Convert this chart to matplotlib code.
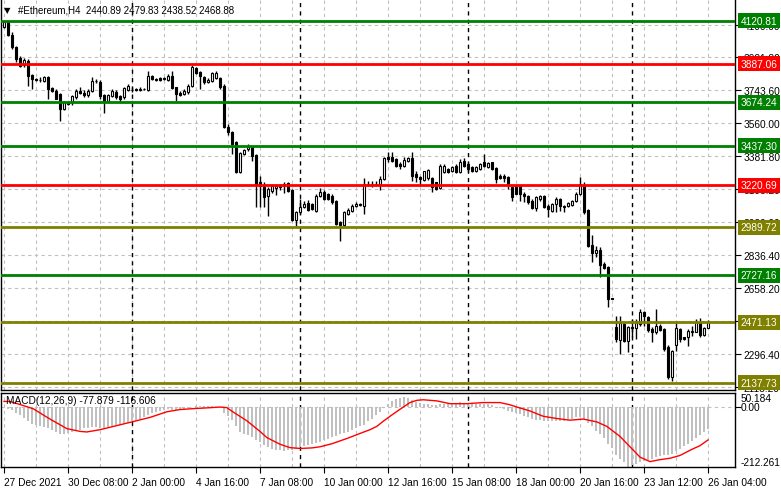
import matplotlib
matplotlib.use('Agg')
import matplotlib.pyplot as plt
from matplotlib.transforms import blended_transform_factory
import numpy as np

# ---------------- data ----------------
title_text = "#Ethereum,H4  2440.89 2479.83 2438.52 2468.88"

opens = [
    4085, 4116, 4045, 3976, 3915, 3880, 3903, 3822, 3802, 3795,
    3793, 3812, 3753, 3738, 3720, 3638, 3668, 3678, 3702, 3738,
    3726, 3715, 3738, 3790, 3784, 3714, 3684, 3711, 3733, 3711,
    3702, 3742, 3742, 3747, 3742, 3745, 3742, 3817, 3800, 3808,
    3800, 3795, 3817, 3757, 3726, 3720, 3729, 3766, 3861, 3839,
    3815, 3784, 3793, 3806, 3806, 3766, 3541, 3512, 3455, 3295,
    3392, 3420, 3428, 3386, 3240, 3218, 3163, 3191, 3204, 3210,
    3229, 3233, 3196, 3032, 3072, 3100, 3123, 3118, 3081, 3160,
    3185, 3173, 3163, 3136, 3017, 3005, 3063, 3081, 3109, 3118,
    3109, 3227, 3228, 3227, 3227, 3255, 3377, 3373, 3364, 3336,
    3327, 3355, 3368, 3282, 3264, 3251, 3258, 3258, 3236, 3205,
    3291, 3309, 3300, 3328, 3291, 3355, 3337, 3318, 3300, 3309,
    3346, 3318, 3346, 3313, 3273, 3269, 3264, 3209, 3214, 3214,
    3172, 3163, 3136, 3094, 3145, 3163, 3105, 3081, 3118, 3145,
    3109, 3105, 3112, 3136, 3172, 3222, 3087, 2893, 2850, 2868,
    2789, 2771, 2601, 2446, 2375, 2461, 2369, 2442, 2437, 2461,
    2525, 2501, 2433, 2415, 2452, 2433, 2337, 2169, 2346, 2433,
    2388, 2388, 2415, 2419, 2473, 2400, 2440.89]

highs = [
    4122, 4120, 4060, 3985, 3930, 3915, 3910, 3830, 3810, 3811,
    3820, 3821, 3760, 3745, 3725, 3680, 3675, 3715, 3750, 3760,
    3740, 3745, 3811, 3800, 3795, 3720, 3720, 3750, 3740, 3715,
    3760, 3775, 3760, 3755, 3760, 3755, 3848, 3825, 3810, 3815,
    3815, 3830, 3848, 3760, 3735, 3745, 3775, 3879, 3870, 3845,
    3820, 3805, 3840, 3848, 3815, 3775, 3556, 3520, 3460, 3400,
    3420, 3446, 3435, 3390, 3273, 3240, 3210, 3225, 3225, 3228,
    3240, 3238, 3200, 3080, 3145, 3135, 3140, 3125, 3170, 3204,
    3195, 3180, 3170, 3140, 3025, 3080, 3095, 3120, 3130, 3125,
    3258, 3245, 3246, 3245, 3273, 3375, 3400, 3404, 3370, 3346,
    3373, 3373, 3404, 3300, 3273, 3300, 3310, 3265, 3240, 3335,
    3335, 3315, 3325, 3335, 3365, 3368, 3346, 3325, 3325, 3340,
    3392, 3345, 3350, 3318, 3280, 3282, 3269, 3218, 3220, 3220,
    3182, 3168, 3145, 3163, 3167, 3165, 3118, 3125, 3155, 3150,
    3112, 3130, 3140, 3182, 3268, 3240, 3090, 2948, 2886, 2880,
    2798, 2780, 2604, 2506, 2506, 2470, 2450, 2488, 2488, 2543,
    2534, 2505, 2442, 2543, 2460, 2440, 2345, 2320, 2470, 2440,
    2392, 2433, 2452, 2488, 2492, 2445, 2479.83]

lows = [
    4080, 4040, 3965, 3893, 3866, 3870, 3766, 3748, 3790, 3785,
    3785, 3693, 3730, 3690, 3574, 3630, 3660, 3660, 3690, 3720,
    3705, 3705, 3730, 3780, 3693, 3614, 3680, 3705, 3695, 3675,
    3695, 3735, 3730, 3735, 3735, 3740, 3738, 3795, 3790, 3790,
    3795, 3790, 3745, 3684, 3710, 3715, 3720, 3760, 3830, 3748,
    3775, 3778, 3785, 3800, 3750, 3535, 3495, 3391, 3285, 3290,
    3385, 3410, 3355, 3100, 3100, 3100, 3054, 3180, 3165, 3195,
    3180, 3185, 3027, 2999, 3065, 3095, 3080, 3085, 3075, 3155,
    3140, 3138, 3120, 3000, 2917, 2995, 3055, 3075, 3100, 3105,
    3063, 3215, 3210, 3215, 3196, 3250, 3346, 3345, 3320, 3309,
    3320, 3350, 3245, 3236, 3218, 3245, 3250, 3182, 3196, 3200,
    3285, 3285, 3295, 3290, 3285, 3318, 3295, 3295, 3295, 3305,
    3318, 3315, 3305, 3232, 3255, 3236, 3200, 3136, 3170, 3136,
    3131, 3120, 3090, 3081, 3136, 3095, 3045, 3075, 3072, 3081,
    3072, 3100, 3105, 3130, 3165, 3065, 2880, 2798, 2826, 2716,
    2762, 2552, 2598, 2360, 2297, 2360, 2309, 2388, 2379, 2452,
    2452, 2415, 2364, 2406, 2425, 2315, 2160, 2150, 2315, 2364,
    2374, 2342, 2397, 2415, 2388, 2397, 2438.52]

closes = [
    4116, 4045, 3976, 3912, 3875, 3905, 3820, 3800, 3795, 3797,
    3812, 3748, 3738, 3693, 3638, 3675, 3670, 3708, 3738, 3726,
    3715, 3738, 3793, 3793, 3711, 3684, 3714, 3738, 3702, 3693,
    3753, 3766, 3744, 3740, 3745, 3750, 3817, 3802, 3795, 3797,
    3805, 3817, 3751, 3720, 3715, 3738, 3766, 3866, 3835, 3817,
    3784, 3799, 3833, 3835, 3760, 3541, 3510, 3446, 3291, 3397,
    3415, 3428, 3383, 3222, 3218, 3154, 3200, 3215, 3214, 3215,
    3215, 3191, 3032, 3072, 3100, 3118, 3087, 3090, 3163, 3182,
    3145, 3145, 3127, 3008, 3005, 3072, 3087, 3109, 3118, 3110,
    3227, 3228, 3227, 3229, 3255, 3368, 3364, 3355, 3327, 3324,
    3360, 3368, 3273, 3264, 3255, 3296, 3305, 3209, 3200, 3327,
    3328, 3291, 3318, 3295, 3349, 3328, 3309, 3300, 3318, 3337,
    3328, 3340, 3309, 3255, 3258, 3258, 3222, 3154, 3172, 3172,
    3160, 3127, 3094, 3154, 3163, 3100, 3090, 3118, 3145, 3109,
    3100, 3123, 3136, 3172, 3225, 3072, 2886, 2850, 2868, 2784,
    2767, 2598, 2600, 2379, 2464, 2369, 2442, 2437, 2466, 2525,
    2503, 2430, 2415, 2452, 2430, 2324, 2169, 2315, 2437, 2379,
    2379, 2421, 2424, 2470, 2400, 2439, 2468.88]

# MACD main (histogram) per bar
macd_hist = [
    -3.6, -6, -11, -19.5, -28, -38, -48, -60, -64.6, -67,
    -69.5, -74.4, -80.5, -89, -96.4, -96.4, -92.7, -86.6, -81.7, -79.3,
    -75.6, -73.2, -70.7, -72, -74.4, -73.2, -70.7, -68.3, -65.9, -64.6,
    -59.8, -56.1, -50, -47.6, -42.7, -35.4, -28, -20.7, -17.1, -13.4,
    -9.7, -7.3, -8.5, -8.5, -7.3, -6.1, -3.6, 1.2, 4.9, 6.1,
    4.9, 3.7, 3.7, 2.5, -1.2, -19.5, -31.7, -43.9, -68.3, -86.6,
    -93.9, -98.8, -104.9, -117.1, -125.6, -135.4, -142.7, -147.6, -151.3, -153.7,
    -154.9, -153.7, -151.3, -147.6, -142.7, -137.8, -134.2, -130.5, -126.9, -123.2,
    -118.3, -113.4, -106.1, -101.2, -96.4, -91.5, -86.6, -81.7, -74.4, -68.3,
    -62.2, -50, -40.2, -28, -15.8, -3.6, 13.4, 23.2, 29.3, 33,
    35.4, 33, 25.6, 20.8, 17.1, 13.4, 11, 8.6, 9.8, 11,
    13.4, 14.7, 15.9, 17.1, 18.3, 17.1, 15.9, 14.7, 13.4, 13.4,
    13.4, 11, 8.6, 2.5, -3.6, -7.3, -13.4, -17.1, -20.7, -25.6,
    -29.3, -35.4, -40.2, -43.9, -46.3, -47.6, -50, -50, -50, -48.8,
    -47.6, -43.9, -40.2, -35.4, -32.9, -40.2, -56.1, -68.3, -84.2, -96.4,
    -111, -129.3, -145.2, -169.6, -184.2, -196.4, -212.261, -206.2, -202.5, -194,
    -190.3, -186.6, -184.2, -179.3, -175.7, -172, -169.6, -165.9, -157.4, -147.6,
    -137.8, -129.3, -120.8, -111, -98.8, -86.6, -77.879]

# MACD signal line, read at bar positions
signal_pos = [0, 1.5, 4, 7.3, 11.5, 15.7, 19, 20.7, 24, 28, 32, 36.5, 40.7, 44, 47,
              50.7, 54, 55.7, 57, 60.7, 64, 65.7, 69, 71.5, 74, 77, 79, 82, 86,
              89.8, 91.5, 93.2, 94.8, 96.5, 99, 101.5, 103.2, 104.8, 108.2, 111.5,
              115.7, 119.8, 124, 126.5, 128.2, 131.5, 134.8, 138.2, 141.5, 144.8,
              148.2, 150.7, 154, 156.5, 159, 161.5, 164, 166.5, 169, 172, 174, 176]
signal_val = [21, 21, 10, -5, -42, -76, -86, -88, -80, -66, -52, -36, -16, -8, -5,
              -2, 1, -1, -14, -48, -86, -108, -132, -144, -147, -145, -141, -130, -110,
              -89, -80, -68, -50, -32, -7, 17, 25, 27, 23, 13,
              13, 17, 17, 9, 1, -13, -32, -40, -46, -42,
              -52, -68, -104, -141, -178, -194, -187, -182, -172, -150, -137, -116.606]

macd_label = "MACD(12,26,9) -77.879 -116.606"
macd_max, macd_min = 50.184, -212.261

level_values = [4120.81, 3887.06, 3674.24, 3437.30, 3220.69, 2989.72, 2727.16, 2471.13, 2137.73]
level_colors = ['#008000', '#FF0000', '#008000', '#008000', '#FF0000',
                '#808000', '#008000', '#808000', '#808000']

price_ticks = [4100.00, 3921.80, 3743.60, 3560.00, 3381.80, 3198.20, 3020.00,
               2836.40, 2658.20, 2477.30, 2296.40, 2118.20]

date_pos = [0, 16, 32, 48, 64, 80, 96, 112, 128, 144, 160, 176]
date_labels = ['27 Dec 2021', '30 Dec 08:00', '2 Jan 00:00', '4 Jan 16:00', '7 Jan 08:00',
               '10 Jan 00:00', '12 Jan 16:00', '15 Jan 08:00', '18 Jan 00:00',
               '20 Jan 16:00', '23 Jan 12:00', '26 Jan 04:00']
grid_pos = list(range(0, 177, 8))
week_sep = [32, 74, 116, 157]

# ---------------- figure ----------------
plt.rcParams['font.family'] = ['Liberation Sans', 'DejaVu Sans']
W, H = 781, 489
fig = plt.figure(figsize=(W / 100, H / 100), dpi=100)
fig.patch.set_facecolor('white')


def fx(px):
    return px / W


def fy(py):
    return 1 - py / H


ax = fig.add_axes([fx(1), fy(391), fx(735) - fx(1), fy(1) - fy(391)])
mx = fig.add_axes([fx(1), fy(468), fx(735) - fx(1), fy(394) - fy(468)])

xlim = (-0.75, 182.75)
GRID = '#C0C0C0'
FS = 7.3

o = np.array(opens, float)
h = np.array(highs, float)
l = np.array(lows, float)
c = np.array(closes, float)
idx = np.arange(len(c))
up = c >= o

# main panel
ax.set_xlim(*xlim)
ax.set_ylim(2099.2, 4234.8)
for v in price_ticks:
    ax.axhline(v, color=GRID, lw=0.8, ls=(0, (3, 3)), zorder=1)
for g in grid_pos:
    ax.axvline(g, color=GRID, lw=0.8, ls=(0, (3, 3)), zorder=1)
for g in week_sep:
    ax.axvline(g, color='black', lw=1.0, ls=(0, (3, 3)), zorder=1.5)

ax.vlines(idx, l, h, color='black', lw=1.0, zorder=3)
body_lo = np.minimum(o, c)
body_h = np.maximum(np.abs(c - o), 2.5)
ax.bar(idx, body_h, bottom=body_lo, width=0.55,
       color=['white' if u else 'black' for u in up],
       edgecolor='black', linewidth=0.8, zorder=4)

trans = blended_transform_factory(ax.transAxes, ax.transData)
for v, col in zip(level_values, level_colors):
    ax.axhline(v, color=col, lw=2.0, zorder=5)
    ax.text(1.0075, v, f'{v:.2f}', transform=trans, ha='left', va='center',
            color='white', fontsize=FS, zorder=10, clip_on=False,
            bbox=dict(boxstyle='square,pad=0.25', fc=col, ec='none'))

ax.yaxis.tick_right()
ax.set_yticks(price_ticks)
ax.set_yticklabels([f'{v:.2f}' for v in price_ticks], fontsize=FS)
ax.tick_params(axis='y', direction='out', length=4, width=0.8, pad=2, colors='black')
ax.set_xticks([])
for s in ['left', 'right', 'bottom']:
    ax.spines[s].set_color('black')
    ax.spines[s].set_linewidth(1.0)
ax.spines['top'].set_visible(False)

fig.text(fx(4), fy(10.5), '\u25BC', fontsize=6, va='center', ha='left', color='black',
         family=['DejaVu Sans'])
fig.text(fx(18), fy(10.5), title_text, fontsize=7.0, va='center', ha='left', color='black')

# MACD panel
mx.set_xlim(*xlim)
mx.set_ylim(macd_min - 1, macd_max + 1)
mx.axhline(0, color=GRID, lw=0.8, ls=(0, (3, 3)), zorder=1)
for g in grid_pos:
    mx.axvline(g, color=GRID, lw=0.8, ls=(0, (3, 3)), zorder=1)
for g in week_sep:
    mx.axvline(g, color='black', lw=1.0, ls=(0, (3, 3)), zorder=1.5)
mx.bar(idx, macd_hist, width=0.5, color='#C0C0C0', zorder=2)
mx.plot(signal_pos, signal_val, color='red', lw=1.0, zorder=3)
mx.text(0.007, 0.97, macd_label, transform=mx.transAxes, fontsize=FS,
        ha='left', va='top', color='black', zorder=5)

mx.set_yticks([0])
mx.yaxis.tick_right()
mx.set_yticklabels([''])
mx.tick_params(axis='y', direction='out', length=4, width=0.8)
mtrans = blended_transform_factory(mx.transAxes, mx.transData)
mx.text(1.0082, macd_max + 1, f'{macd_max:.3f}', transform=mtrans, fontsize=FS,
        ha='left', va='top', clip_on=False)
mx.text(1.0082, 0, '0.00', transform=mtrans, fontsize=FS,
        ha='left', va='center', clip_on=False)
mx.text(1.0082, macd_min, f'{macd_min:.3f}', transform=mtrans, fontsize=FS,
        ha='left', va='bottom', clip_on=False)

mx.set_xticks(date_pos)
mx.set_xticklabels(date_labels, fontsize=FS, ha='left')
mx.tick_params(axis='x', direction='out', length=4, width=0.8, pad=3)
for s in mx.spines.values():
    s.set_color('black')
    s.set_linewidth(1.0)

fig.savefig('out.png', dpi=100, facecolor='white')
